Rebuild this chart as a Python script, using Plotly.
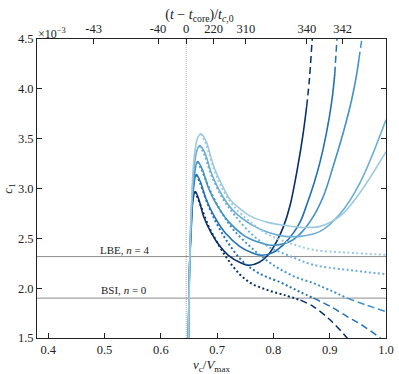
import plotly.graph_objects as go

# c1 values in units of 1e-3
colors = ['#08306b', '#2171b5', '#4292c6', '#6baed6', '#9ecae1']

# solid branch (rise, peak, minimum, upturn)
solid_x = [
    [0.649, 0.651, 0.654, 0.657, 0.661, 0.668, 0.676, 0.69, 0.705, 0.72, 0.74, 0.757, 0.775, 0.79, 0.805, 0.818, 0.83, 0.842, 0.852, 0.859],
    [0.649, 0.651, 0.654, 0.658, 0.663, 0.67, 0.68, 0.695, 0.715, 0.74, 0.76, 0.78, 0.80, 0.82, 0.835, 0.848, 0.86, 0.872, 0.883, 0.894, 0.904, 0.909],
    [0.649, 0.651, 0.654, 0.659, 0.665, 0.673, 0.685, 0.70, 0.72, 0.75, 0.78, 0.80, 0.83, 0.85, 0.871, 0.89, 0.906, 0.925, 0.939, 0.948, 0.952],
    [0.649, 0.651, 0.654, 0.659, 0.664, 0.669, 0.678, 0.69, 0.71, 0.73, 0.76, 0.79, 0.82, 0.848, 0.883, 0.919, 0.954, 1.0],
    [0.649, 0.651, 0.654, 0.659, 0.665, 0.671, 0.68, 0.694, 0.71, 0.723, 0.74, 0.76, 0.79, 0.82, 0.85, 0.883, 0.92, 0.954, 1.0],
]
solid_y = [
    [1.5, 2.2, 2.6, 2.88, 2.97, 2.88, 2.72, 2.55, 2.42, 2.33, 2.26, 2.23, 2.26, 2.33, 2.46, 2.62, 2.84, 3.18, 3.52, 3.82],
    [1.5, 2.2, 2.65, 3.0, 3.14, 3.07, 2.9, 2.72, 2.55, 2.42, 2.36, 2.33, 2.36, 2.45, 2.55, 2.67, 2.85, 3.05, 3.27, 3.55, 3.89, 4.15],
    [1.5, 2.2, 2.7, 3.1, 3.27, 3.2, 3.0, 2.83, 2.67, 2.52, 2.45, 2.43, 2.47, 2.56, 2.72, 2.94, 3.22, 3.58, 3.89, 4.15, 4.30],
    [1.5, 2.2, 2.75, 3.2, 3.38, 3.43, 3.36, 3.15, 2.92, 2.77, 2.64, 2.56, 2.52, 2.52, 2.57, 2.75, 3.06, 3.69],
    [1.5, 2.2, 2.8, 3.3, 3.5, 3.55, 3.48, 3.22, 3.02, 2.89, 2.80, 2.72, 2.66, 2.63, 2.61, 2.62, 2.73, 2.96, 3.37],
]
# dashed continuation of the solid branch above the plot top
top_x = [
    [0.859, 0.864, 0.869, 0.873],
    [0.909, 0.913, 0.917],
    [0.952, 0.957, 0.961],
    [],
    [],
]
top_y = [
    [3.82, 4.1, 4.5, 4.75],
    [4.15, 4.5, 4.75],
    [4.30, 4.5, 4.7],
    [],
    [],
]

# dotted branch from the peak
dot_x = [
    [0.661, 0.67, 0.685, 0.70, 0.72, 0.74, 0.76, 0.79, 0.82, 0.848],
    [0.663, 0.67, 0.685, 0.70, 0.72, 0.74, 0.76, 0.785, 0.812, 0.83, 0.848, 0.871],
    [0.665, 0.673, 0.69, 0.71, 0.73, 0.76, 0.79, 0.812, 0.84, 0.871, 0.90, 0.931],
    [0.669, 0.678, 0.69, 0.71, 0.73, 0.76, 0.79, 0.83, 0.871, 0.931, 1.0],
    [0.671, 0.68, 0.694, 0.71, 0.73, 0.76, 0.79, 0.83, 0.871, 0.931, 1.0],
]
dot_y = [
    [2.97, 2.84, 2.62, 2.46, 2.28, 2.14, 2.05, 1.98, 1.93, 1.88],
    [3.14, 3.05, 2.82, 2.64, 2.45, 2.30, 2.20, 2.12, 2.06, 2.01, 1.96, 1.90],
    [3.27, 3.18, 2.95, 2.74, 2.58, 2.41, 2.27, 2.19, 2.11, 2.05, 1.98, 1.90],
    [3.43, 3.33, 3.13, 2.90, 2.74, 2.55, 2.42, 2.32, 2.234, 2.184, 2.14],
    [3.55, 3.45, 3.2, 2.99, 2.82, 2.66, 2.54, 2.45, 2.385, 2.357, 2.334],
]
# dashed continuation of the dotted branch below BSI
low_x = [
    [0.848, 0.871, 0.901, 0.931, 0.937],
    [0.871, 0.90, 0.931, 0.96, 0.99, 0.997],
    [0.931, 0.965, 1.0],
    [],
    [],
]
low_y = [
    [1.88, 1.815, 1.68, 1.50, 1.46],
    [1.90, 1.82, 1.715, 1.62, 1.50, 1.47],
    [1.90, 1.83, 1.765],
    [],
    [],
]

lbe = 2.317
bsi = 1.90
t_core_x = 0.645
top_tickvals = [0.4805, 0.595, 0.6447, 0.6937, 0.7512, 0.8596, 0.9228]
top_ticktext = ['-43', '-40', '0', '220', '310', '340', '342']

font = 'Liberation Serif'

fig = go.Figure()

fig.add_trace(go.Scatter(x=[t_core_x, t_core_x], y=[1.5, 4.5], mode='lines',
                         line=dict(color='#aaaaaa', width=1, dash='1px,1px')))
for yv in [lbe, bsi]:
    fig.add_trace(go.Scatter(x=[0.38, 1.0], y=[yv, yv], mode='lines',
                             line=dict(color='#8c8c8c', width=1)))

for i, c in enumerate(colors):
    fig.add_trace(go.Scatter(x=dot_x[i], y=dot_y[i], mode='lines', line_shape='spline',
                             line=dict(color=c, width=2, dash='2px,2.5px')))
    if low_x[i]:
        fig.add_trace(go.Scatter(x=low_x[i], y=low_y[i], mode='lines', line_shape='spline',
                                 line=dict(color=c, width=1.5, dash='7px,4px')))
    fig.add_trace(go.Scatter(x=solid_x[i], y=solid_y[i], mode='lines', line_shape='spline',
                             line=dict(color=c, width=1.6)))
    if top_x[i]:
        fig.add_trace(go.Scatter(x=top_x[i], y=top_y[i], mode='lines', line_shape='spline',
                                 line=dict(color=c, width=1.5, dash='7px,4px')))

# dummy trace to activate the top axis
fig.add_trace(go.Scatter(x=[0.5], y=[2], xaxis='x2', mode='markers',
                         marker=dict(opacity=0), hoverinfo='skip'))

fig.add_annotation(x=0.535, y=2.38, text='LBE, <i>n</i> = 4', showarrow=False,
                   font=dict(size=11, color='#222'))
fig.add_annotation(x=0.535, y=1.98, text='BSI, <i>n</i> = 0', showarrow=False,
                   font=dict(size=11, color='#222'))
fig.add_annotation(x=0.0, y=1.0, xref='paper', yref='paper', xanchor='left', yanchor='bottom',
                   text='×10<sup>−3</sup>', showarrow=False, font=dict(size=12, color='#222'),
                   xshift=-1, yshift=-4)

axis_style = dict(showgrid=False, zeroline=False, showline=True, linecolor='#222',
                  linewidth=1, ticks='inside', ticklen=5, tickcolor='#222', automargin=False,
                  tickfont=dict(size=12.5, color='#222'))

fig.update_layout(
    width=399, height=374,
    margin=dict(l=37, r=13, t=39, b=36),
    plot_bgcolor='white', paper_bgcolor='white',
    showlegend=False,
    font=dict(family=font, size=12, color='#222'),
    title=dict(text='(<i>t</i> − <i>t</i><sub>core</sub>)/<i>t</i><sub><i>c</i>,0</sub>',
               x=0.5, xanchor='center', y=0.975, yanchor='top', font=dict(size=14)),
    xaxis=dict(range=[0.38, 1.0], tickvals=[0.4, 0.5, 0.6, 0.7, 0.8, 0.9, 1.0],
               ticktext=['0.4', '0.5', '0.6', '0.7', '0.8', '0.9', '1.0'],
               title=dict(text='<i>v</i><sub>c</sub>/<i>V</i><sub>max</sub>',
                          font=dict(size=13)),
               **axis_style),
    xaxis2=dict(range=[0.38, 1.0], overlaying='x', side='top', tickvals=top_tickvals,
                ticktext=top_ticktext, **axis_style),
    yaxis=dict(range=[1.5, 4.5], tickvals=[1.5, 2.0, 2.5, 3.0, 3.5, 4.0, 4.5],
               ticktext=['1.5', '2.0', '2.5', '3.0', '3.5', '4.0', '4.5'],
               mirror='ticks', title=dict(text='<i>c</i><sub>1</sub>',
                                          font=dict(size=13)),
               **axis_style),
)

# the page body has a default 8px margin; drop it so the figure sits at the corner
fig.write_html('out.html', config={'displayModeBar': False},
               post_script="document.body.style.margin='0';")
